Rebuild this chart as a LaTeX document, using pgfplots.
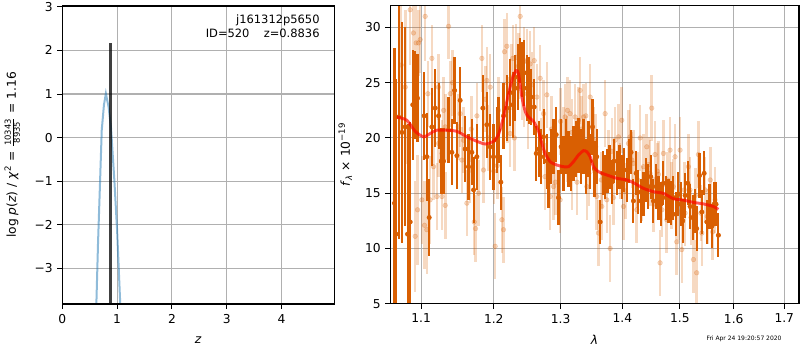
\documentclass[border=0pt]{standalone}
\usepackage{fontspec}
\setmainfont{DejaVu Sans}
\usepackage{pgfplots}
\pgfplotsset{compat=1.18}
\usepackage{pgfplotstable}

\definecolor{dorange}{RGB}{217,95,2}
\definecolor{mplblue}{RGB}{31,119,180}
\definecolor{gridgray}{RGB}{176,176,176}

\pgfplotstableread{
x y e
1.0654 14.1 14
1.0675 11.3 14
1.0706 21.9 11
1.0749 20.5 10
1.0792 21.0 9
1.0822 11.3 10
1.0856 12.4 9
1.0890 23.0 5
1.0921 23.9 4
1.0952 23.6 4
1.1040 22.0 4
1.1075 18.3 4
1.1106 12.8 3.5
1.1142 21.0 3.5
1.1187 22.7 3.5
1.1232 22.0 3
1.1268 17.9 3
1.1299 17.9 3
1.1367 20.7 3
1.1412 18.7 3
1.1449 24.3 3
1.1481 18.4 3
1.1526 23.4 3
1.1595 19.0 3
1.1642 17.4 3
1.1689 18.7 3
1.1713 15.3 3
1.1759 18.3 3
1.1844 22.7 3
1.1901 21.2 3
1.1949 19.2 3
1.1996 18.3 3
1.2044 19.8 3
1.2068 20.7 3
1.2102 16.0 2.5
1.2141 22.0 3
1.2190 22.7 3
1.2238 24.1 3
1.2277 23.0 3
1.2312 24.5 3
1.2351 25.5 3
1.2386 27.0 2
1.2411 26.2 2.5
1.2446 25.9 3
1.2486 24.5 3
1.2520 24.3 3
1.2550 23.7 2.5
1.2596 22.8 2.5
1.2626 18.6 2.5
1.2662 19.0 2.5
1.2697 18.3 2.5
1.2738 20.1 2.5
1.2788 17.9 2.5
1.2814 16.2 2.5
1.2850 18.3 2.5
1.2891 19.2 2.5
1.2932 20.3 2.5
1.2968 14.6 2.5
1.3009 19.2 2.5
1.3045 17.7 2.5
1.3087 19.2 2.5
1.3124 18.1 2.5
1.3161 17.7 2.5
1.3203 18.6 2.5
1.3245 19.0 2.5
1.3282 19.3 2.5
1.3320 18.3 2.5
1.3363 19.2 2.5
1.3406 17.4 2.5
1.3443 19.0 2.5
1.3470 17.9 2.5
1.3508 21.0 2.5
1.3540 17.2 2.5
1.3577 18.3 2.5
1.3632 12.4 2
1.3676 16.8 2
1.3714 16.5 2
1.3752 17.0 2
1.3786 17.4 2
1.3824 16.0 2
1.3862 17.9 2
1.3907 16.8 2
1.3951 17.4 2
1.3990 16.5 2
1.4029 17.1 2
1.4074 16.2 2
1.4119 17.9 2
1.4147 18.7 2
1.4187 14.3 2
1.4232 16.8 2
1.4272 15.1 2
1.4312 14.3 2
1.4358 14.9 2
1.4404 16.2 2
1.4444 15.6 2
1.4485 16.5 2
1.4531 14.3 2
1.4578 15.6 2
1.4619 14.6 2
1.4659 14.0 2
1.4706 15.9 2
1.4753 14.6 2
1.4795 14.3 2
1.4836 14.1 2
1.4884 14.6 2
1.4925 13.1 2
1.4973 14.9 2
1.5015 14.0 2
1.5051 12.5 2
1.5094 14.8 2
1.5142 15.9 2
1.5184 13.8 2
1.5233 12.8 2
1.5275 13.4 2
1.5305 11.8 2
1.5357 16.6 2
1.5400 13.3 2
1.5443 16.8 2
1.5493 12.4 2
1.5542 13.8 2
1.5586 12.0 2
1.5627 14.0 2
1.5665 14.0 2
1.5709 11.2 2
}\darkdata

\pgfplotstableread{
x y e
1.0740 26.6 6
1.0792 24.6 7
1.0856 31.6 5
1.0899 29.5 4
1.0934 28.6 4
1.0965 28.6 3
1.0987 28.9 3
1.1053 31.0 4
1.1088 24.0 3
1.1119 14.4 4
1.1142 27.2 3
1.1075 11.7 4
1.0921 11.1 5
1.0952 13.5 5
1.1009 14.4 4
1.1044 12.1 4
1.1164 17.4 3
1.1209 14.7 3
1.1277 14.7 3
1.1322 13.9 3
1.1367 30.1 3
1.1390 24.0 3
1.1322 21.0 3
1.1277 18.6 3
1.1232 19.5 3
1.1526 22.2 3
1.1572 19.8 3
1.1619 14.1 3
1.1666 17.1 3
1.1722 12.4 3
1.1741 11.8 3
1.1783 15.0 3
1.1830 27.2 3
1.1853 17.1 3
1.1901 25.2 3
1.1949 24.6 3
1.2020 10.2 3
1.2068 22.5 3
1.2117 12.6 3
1.2141 11.7 3
1.2156 27.8 3
1.2190 28.3 3
1.2238 20.4 3
1.2277 27.2 3
1.2327 27.3 3
1.2386 31.0 3
1.2411 24.6 3
1.2446 27.0 3
1.2486 26.9 3
1.2535 26.7 3
1.2596 27.0 3
1.2636 23.7 3
1.2687 25.4 3
1.2738 22.2 3
1.2788 23.9 3
1.2840 14.7 3
1.2891 15.6 3
1.2994 14.4 3
1.3045 19.8 3
1.3071 21.9 3
1.3108 22.5 3
1.3150 22.2 3
1.3176 16.5 3
1.3229 21.9 3
1.3282 21.6 3
1.3309 24.3 3
1.3363 21.9 3
1.3416 15.6 3
1.3470 23.7 3
1.3524 19.8 3
1.3577 14.7 3
1.3604 11.4 3
1.3659 13.8 3
1.3714 22.2 3
1.3741 14.4 3
1.3796 10.0 3
1.3824 18.8 3
1.3879 19.8 3
1.3935 20.1 3
1.3990 21.6 3
1.4018 13.8 3
1.4102 19.5 3
1.4130 20.1 3
1.4187 17.7 3
1.4244 13.5 3
1.4301 20.0 3
1.4358 17.4 3
1.4415 19.2 3
1.4473 16.8 3
1.4502 22.7 3
1.4560 18.5 3
1.4619 16.7 3
1.4648 8.7 3
1.4706 18.6 3
1.4765 12.6 3
1.4824 18.9 3
1.4854 14.8 3
1.4913 18.3 3
1.4943 10.6 3
1.5003 18.9 3
1.5033 9.9 3
1.5094 13.2 3
1.5154 17.4 3
1.5184 15.3 3
1.5245 9.0 3
1.5305 7.8 3
1.5336 18.5 3
1.5400 11.4 3
1.5462 15.3 3
1.5555 16.2 3
1.5646 14.4 3
1.1230 24.6 3
1.1300 22.5 3
1.1420 25.0 3
1.1500 21.0 3
1.1550 18.0 3
1.1680 20.8 3
1.1760 22.0 3
1.1880 23.5 3
1.1920 20.0 3
1.2000 17.0 3
1.2050 17.5 3
1.2200 22.5 3
1.2260 25.5 3
1.2300 20.0 3
1.2360 26.5 3
1.2440 24.0 3
1.2500 22.0 3
1.2560 24.8 3
1.2700 18.8 3
1.2760 16.5 3
1.2860 20.8 3
1.2920 16.0 3
1.3000 21.5 3
1.3100 19.0 3
1.3180 20.5 3
1.3260 16.0 3
1.3330 20.8 3
1.3400 22.0 3
1.3450 16.8 3
1.3560 19.2 3
1.3650 16.2 2.5
1.3770 18.2 2.5
1.3850 14.6 2.5
1.3960 17.0 2.5
1.4050 15.2 2.5
1.4160 18.0 2.5
1.4260 16.2 2.5
1.4330 15.0 2.5
1.4450 17.6 2.5
1.4530 14.0 2.5
1.4600 17.0 2.5
1.4680 13.5 2.5
1.4780 16.2 2.5
1.4880 15.6 2.5
1.4980 13.3 2.5
1.5080 15.3 2.5
1.5200 12.8 2.5
1.5280 14.8 2.5
1.5380 13.2 2.5
1.5500 12.9 2.5
1.5600 11.5 2.5
}\lightdata

\begin{document}
\begin{tikzpicture}
\path[use as bounding box] (0pt,0pt) rectangle (600pt,262.5pt);
\pgfplotsset{
  every axis/.append style={
    scale only axis, grid=major,
    grid style={gridgray, line width=0.8pt},
    axis line style={line width=0.9pt},
    tick align=outside, tick pos=left,
    tick style={black, line width=0.75pt},
    major tick length=3.6pt,
    tick label style={font=\fontsize{9.2}{11}\selectfont},
    label style={font=\fontsize{9.2}{11}\selectfont},
    xticklabel style={yshift=-0.6pt},
    clip mode=individual,
  }
}
% left panel
\begin{axis}[at={(46.7pt,34.5pt)}, anchor=south west, width=204pt, height=223.5pt,
  xmin=0, xmax=4.96, ymin=-3.82, ymax=3.02,
  xtick={0,1,2,3,4}, xticklabels={0,1,2,3,4},
  ytick={-3,-2,-1,0,1,2,3}, yticklabels={−3,−2,−1,0,1,2,3},
  xlabel={\textit{z}}, xlabel style={at={(axis description cs:0.5,-0.121)}, anchor=center},
  ylabel={log \textit{p}(\textit{z}) / \textit{χ}\textsuperscript{2} = $\frac{\hbox{\fontsize{6.3}{6.3}\selectfont 10343}}{\hbox{\fontsize{6.3}{6.3}\selectfont 8935}}$ = 1.16},
  ylabel style={at={(axis description cs:-0.184,0.5)}, anchor=center}]
\addplot[mplblue, opacity=0.5, line width=1.5pt, no marks] coordinates {
(0.62,-3.9) (0.652,-2.43) (0.69,-0.98) (0.72,0.17) (0.76,0.75) (0.795,1.01)
(0.845,0.70) (0.888,0.24) (0.95,-0.98) (1.0,-2.13) (1.06,-3.9)};
\addplot[black, opacity=0.75, line width=2.3pt, no marks] coordinates {
(0.8836,-3.9) (0.8836,2.17)};
\node[anchor=north east, align=right, inner sep=0pt, font=\fontsize{8.6}{11}\selectfont]
  at (rel axis cs:0.947,0.972) {j161312p5650\\ID=520\hspace{1.25em}z=0.8836};
\draw[line width=0.9pt] (rel axis cs:0,0) rectangle (rel axis cs:1,1);
\end{axis}
% right panel: wavelength axis is logarithmic
\begin{axis}[at={(292.7pt,34.7pt)}, anchor=south west, width=306.5pt, height=223.8pt,
  x coord trafo/.code={\pgfmathparse{ln(#1)}},
  x coord inv trafo/.code={\pgfmathparse{exp(#1)}},
  xmin=1.060, xmax=1.730, ymin=5, ymax=32,
  xtick={1.1,1.2,1.3,1.4,1.5,1.6,1.7}, xticklabels={1.1,1.2,1.3,1.4,1.5,1.6,1.7},
  ytick={5,10,15,20,25,30}, yticklabels={5,10,15,20,25,30},
  xlabel={\textit{λ}}, xlabel style={at={(axis description cs:0.5,-0.121)}, anchor=center},
  ylabel={\textit{f}\textsubscript{\textit{λ}} × 10\textsuperscript{−19}},
  ylabel style={at={(axis description cs:-0.110,0.5)}, anchor=center}]
\addplot[dorange, opacity=0.24, only marks, mark=*, mark size=1.75pt, mark options={draw=none, fill=dorange},
  error bars/.cd, y dir=both, y explicit, error mark=none,
  error bar style={line width=1.9pt, dorange}]
  table[x=x, y=y, y error=e]{\lightdata};
\addplot[dorange, only marks, mark=*, mark size=1.65pt, mark options={draw=none, fill=dorange},
  error bars/.cd, y dir=both, y explicit, error mark=none,
  error bar style={line width=1.6pt, dorange}]
  table[x=x, y=y, y error=e]{\darkdata};
\addplot[red, opacity=0.65, line width=2.2pt, no marks, smooth, tension=0.4] coordinates {
(1.0684,21.9) (1.0813,21.6) (1.0921,20.6) (1.1031,20.1) (1.1119,20.4) (1.1209,20.7)
(1.1344,20.7) (1.1481,20.6) (1.1619,20.1) (1.1759,19.7) (1.1877,19.45) (1.1996,19.7)
(1.2068,20.3) (1.2141,21.9) (1.2214,24.0) (1.2277,25.5) (1.2327,26.1) (1.2361,25.8)
(1.2411,23.7) (1.2461,22.4) (1.2510,21.9) (1.2586,21.5) (1.2662,20.6) (1.2712,19.5)
(1.2763,18.6) (1.2840,17.85) (1.2942,17.55) (1.3045,17.4) (1.3124,17.4) (1.3203,17.85)
(1.3282,18.45) (1.3363,18.85) (1.3416,18.75) (1.3470,18.3) (1.3524,17.4) (1.3604,16.95)
(1.3741,16.65) (1.3907,16.35) (1.4074,16.2) (1.4187,15.95) (1.4358,15.44) (1.4531,15.14)
(1.4706,14.99) (1.4884,14.5) (1.5063,14.38) (1.5245,14.17) (1.5431,14.03) (1.5614,13.8)
(1.5709,13.54)};
\draw[line width=0.9pt] (rel axis cs:0,0) rectangle (rel axis cs:1,1);
\end{axis}
\node[font=\fontsize{4.5}{5}\selectfont] at (558pt,8.3pt) {Fri Apr 24 19:20:57 2020};
\end{tikzpicture}
\end{document}
